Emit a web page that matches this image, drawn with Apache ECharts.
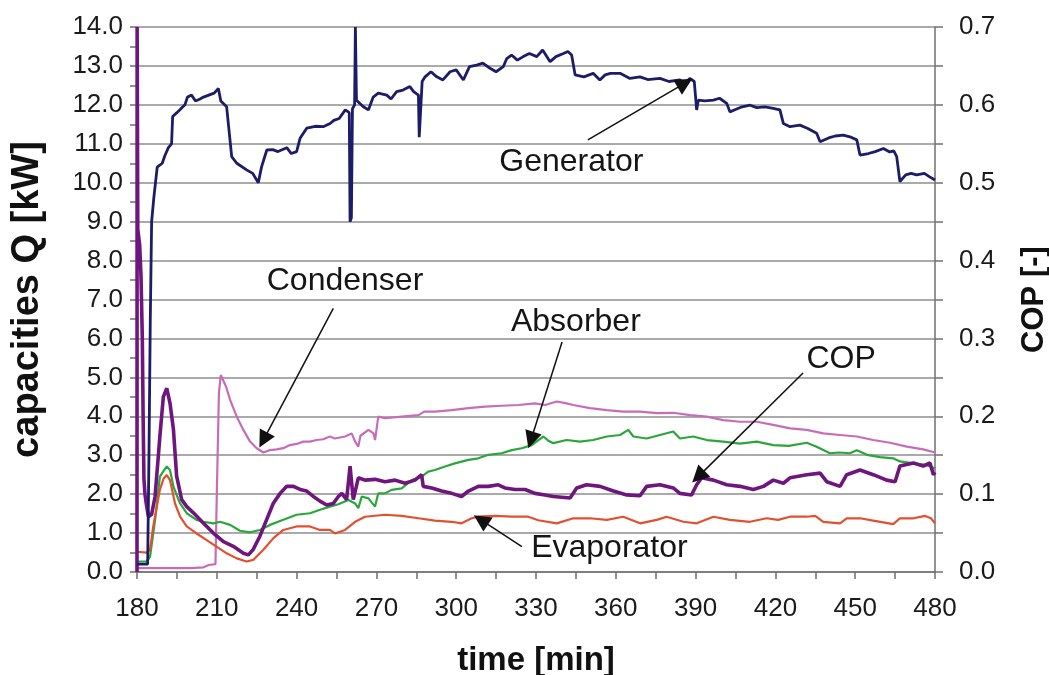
<!DOCTYPE html>
<html>
<head>
<meta charset="UTF-8">
<title>capacities Q / COP vs time</title>
<script src="https://cdn.jsdelivr.net/npm/echarts@6/dist/echarts.min.js"></script>
<style>
  html, body { margin: 0; background: #fff; overflow: hidden; width: 1049px; height: 675px; }
  #chart { width: 1049px; height: 675px; }
</style>
</head>
<body>
<div id="chart"></div>
<script>
// time [min], capacity [kW]
const generator = [
  [180,0.2],[184,0.2],[184.5,3.0],[185,6.5],[185.5,9.0],[186.3,9.6],[187.6,10.4],[189.5,10.5],[190.5,10.7],[191.8,10.9],
  [193,11.0],[193.4,11.7],[195,11.8],[196.5,11.9],[198,12.0],[199,12.2],[200.5,12.25],[202,12.1],[203.7,12.15],[205,12.2],
  [207,12.25],[209,12.3],[210.6,12.42],[211.5,12.1],[213.7,11.95],[215.6,10.67],[217.5,10.5],[221.2,10.33],[223.5,10.24],[225.6,10.0],
  [226.8,10.4],[228.8,10.84],[231,10.85],[233,10.8],[236.3,10.9],[238,10.75],[240,10.8],[241.3,11.14],[243.8,11.4],[247,11.45],
  [250,11.44],[252.6,11.52],[254,11.6],[256,11.65],[258.3,11.87],[259.8,11.8],[260.1,9.0],[260.6,9.1],[261,11.9],[261.8,12.0],
  [262.1,14.0],[262.5,12.12],[265.1,11.95],[267,11.87],[268.8,12.2],[270.7,12.3],[273.9,12.25],[275.5,12.15],[277.6,12.34],[280,12.38],
  [282.6,12.47],[284,12.34],[285.8,12.25],[286.1,11.17],[286.6,11.2],[287.2,12.6],[288.3,12.72],[290.5,12.85],[292.7,12.72],[295,12.64],
  [297.7,12.85],[300,12.9],[302.7,12.64],[305,12.98],[307.7,13.02],[310,13.07],[312.7,12.94],[315,12.85],[317.7,12.98],[319,13.19],
  [320.8,13.28],[323,13.15],[325.2,13.24],[327.5,13.32],[330.3,13.24],[332.5,13.41],[335.3,13.11],[337.5,13.24],[340.3,13.32],[342,13.37],
  [343.4,13.28],[344.7,12.77],[348,12.72],[351.5,12.81],[354,12.64],[356,12.77],[358,12.81],[361.6,12.81],[365.3,12.68],[369.1,12.72],
  [372,12.65],[376.6,12.68],[380,12.6],[384.1,12.64],[386,12.55],[387.8,12.68],[389.5,12.6],[390.4,11.87],[391,12.12],[393.5,12.1],
  [396.7,12.12],[399,12.17],[401.7,12.04],[402.9,11.82],[405,11.88],[407.5,11.95],[410.5,11.99],[413,11.93],[416,11.95],[419.2,11.91],
  [421.7,11.87],[423,11.52],[425.5,11.44],[429.2,11.48],[432,11.4],[435.5,11.27],[436.8,11.05],[440,11.15],[442.5,11.2],[445.5,11.22],
  [448,11.18],[450.6,11.1],[451.8,10.71],[455,10.75],[457.5,10.8],[460.6,10.88],[463,10.79],[464.5,10.82],[465.6,10.67],[466.8,10.03],
  [469,10.2],[471,10.24],[473.1,10.2],[476,10.24],[478,10.15],[480,10.07]
]

const condenser = [
  [180,0.1],[190,0.1],[200,0.1],[205,0.12],[207,0.18],[209.5,0.2],[210,2.0],[210.8,4.6],[211.5,5.06],[212,5.05],
  [213.5,4.76],[215,4.42],[217.5,3.99],[220,3.65],[222.5,3.35],[225,3.18],[227.5,3.07],[230,3.13],[232.5,3.15],[235,3.18],
  [237.5,3.26],[240,3.29],[242.5,3.35],[245,3.35],[247.5,3.39],[250,3.41],[252.5,3.48],[254.4,3.43],[258.2,3.48],[260.7,3.56],
  [262,3.35],[263.2,3.22],[264,3.5],[267,3.65],[268.9,3.56],[269.5,3.39],[270.7,3.99],[273.2,3.95],[279.5,3.99],[285.8,4.03],
  [288,4.12],[292,4.12],[298.3,4.16],[304.6,4.21],[310.8,4.25],[317.1,4.27],[323.4,4.29],[329.6,4.33],[333.4,4.29],[337.8,4.38],
  [341.5,4.33],[344,4.29],[350.3,4.21],[356.6,4.16],[362.8,4.12],[369.1,4.12],[375.4,4.08],[381.6,4.09],[387.9,4.03],[394.2,3.99],
  [400.4,3.9],[406.7,3.86],[413,3.86],[419.2,3.78],[425.5,3.69],[431.8,3.65],[438,3.56],[444.3,3.52],[450.6,3.48],[456.8,3.39],
  [463.1,3.32],[469.4,3.22],[475.6,3.15],[480,3.07]
]

const absorber = [
  [180,0.27],[183.6,0.27],[184.9,0.39],[186.8,1.34],[188.6,2.45],[190,2.6],[191.2,2.71],[192.4,2.62],[193.7,2.19],[196.2,1.76],
  [198.7,1.51],[202.4,1.34],[204.9,1.29],[208.7,1.25],[211.2,1.29],[215,1.21],[218.7,1.06],[222.5,1.02],[226.2,1.08],[230,1.21],
  [235,1.34],[240,1.47],[245,1.51],[248.8,1.6],[252.5,1.68],[255.7,1.74],[259.5,1.85],[262,1.76],[263.2,1.64],[264.5,1.94],
  [267,1.89],[269.5,1.68],[270.7,2.02],[273.2,2.02],[275.7,2.11],[279.5,2.15],[283.3,2.36],[287,2.45],[289.5,2.58],[292,2.62],
  [295.8,2.71],[299.5,2.79],[304.6,2.88],[308.3,2.92],[312.1,3.01],[317.1,3.05],[320.9,3.13],[324.6,3.18],[328.4,3.26],[330.9,3.39],
  [332.8,3.48],[334.5,3.38],[336.5,3.31],[341.5,3.39],[346.5,3.35],[351.5,3.39],[356.6,3.48],[361.6,3.52],[364.7,3.65],[366.6,3.48],
  [371.6,3.43],[376.6,3.52],[381.6,3.61],[384.1,3.43],[389.1,3.48],[394.2,3.39],[400.4,3.35],[406.7,3.3],[413,3.35],[419.2,3.26],
  [425,3.24],[431.8,3.32],[435.5,3.22],[440.5,3.05],[444,3.07],[448,3.05],[450.6,3.13],[454.5,3.01],[459.3,2.95],[464.3,2.92],
  [466.8,2.84],[471.9,2.79],[476.9,2.75],[480,2.66]
]

const evaporator = [
  [180,0.52],[183.6,0.5],[184.9,0.57],[186.1,1.17],[188.6,2.11],[190,2.4],[191.2,2.49],[192.4,2.36],[194.3,1.76],[196.2,1.42],
  [198.7,1.17],[202.4,0.99],[206.2,0.82],[209.9,0.65],[213.7,0.48],[217.5,0.35],[221.2,0.27],[223.7,0.31],[227.5,0.57],[231.3,0.87],
  [235,1.08],[240,1.17],[245,1.17],[248.8,1.08],[252.5,1.08],[254.4,0.99],[258.2,1.08],[262,1.29],[265.7,1.42],[273.2,1.47],
  [279.5,1.44],[285.8,1.38],[292,1.32],[298.3,1.29],[302,1.25],[305.8,1.38],[308.3,1.42],[314.6,1.44],[320.9,1.42],[327.1,1.42],
  [330.9,1.33],[337.8,1.25],[344,1.38],[350.3,1.38],[356.6,1.34],[362.8,1.42],[369.1,1.25],[375.4,1.34],[379.1,1.42],[385.4,1.29],
  [390.4,1.25],[396.7,1.42],[402.9,1.34],[410.4,1.29],[416.7,1.38],[421,1.34],[425.5,1.42],[431.8,1.42],[435,1.44],[438,1.29],
  [444.3,1.25],[446.8,1.38],[451.8,1.38],[456.8,1.32],[464.3,1.23],[466.8,1.38],[471.9,1.38],[476.3,1.44],[478.5,1.38],[480,1.25]
]

// time [min], COP [-] (right axis)
const cop = [
  [180,0],[180.05,0.70],[180.3,0.44],[181,0.42],[181.5,0.38],[182,0.30],[182.3,0.20],[182.6,0.12],[183,0.100],[183.6,0.085],
  [184.3,0.071],[185.5,0.074],[186.8,0.097],[188.6,0.174],[189.9,0.225],[191.2,0.236],[192.4,0.217],[193.7,0.183],[194.9,0.123],[196.8,0.093],
  [198.7,0.084],[201.2,0.076],[204.9,0.063],[208.7,0.050],[212.5,0.039],[216.2,0.033],[220,0.024],[221.9,0.022],[223.7,0.029],[226.2,0.046],
  [228.7,0.067],[231.2,0.088],[233.8,0.101],[236.3,0.110],[238.8,0.110],[241.3,0.106],[243.8,0.104],[246.3,0.097],[248.8,0.091],[251.3,0.086],
  [253.8,0.088],[255.7,0.097],[257,0.101],[258.8,0.093],[260.1,0.136],[260.6,0.118],[261.3,0.093],[262.6,0.112],[263.2,0.121],[265.7,0.118],
  [269.5,0.119],[273.2,0.116],[277,0.118],[280.8,0.114],[284.5,0.118],[287,0.125],[287.6,0.110],[290.8,0.108],[294.5,0.104],[298.3,0.101],
  [302,0.097],[304.6,0.104],[308.3,0.110],[312.1,0.110],[315.8,0.112],[318.3,0.108],[322.1,0.106],[325.9,0.106],[329.6,0.101],[333.4,0.099],
  [336.5,0.097],[342.8,0.095],[345.3,0.108],[349,0.112],[354.1,0.110],[359.1,0.104],[364.1,0.099],[369.1,0.098],[371.6,0.110],[376.6,0.112],
  [381.6,0.108],[384.1,0.101],[388.5,0.099],[390.4,0.112],[392.3,0.121],[396.7,0.118],[401.7,0.112],[406.7,0.110],[411.7,0.106],[415.5,0.110],
  [419.2,0.118],[423,0.114],[425.5,0.121],[431.8,0.125],[436.8,0.127],[439.3,0.116],[444.3,0.110],[446.8,0.125],[451.8,0.131],[456.8,0.125],
  [461.8,0.118],[465,0.116],[466.8,0.136],[471.9,0.140],[475.6,0.136],[478.1,0.140],[479.4,0.125],[480,0.128]
]

// annotations (data coordinates, left axis)
const labelNames = ['Generator', 'Condenser', 'Absorber', 'COP', 'Evaporator']
const labelAt = [[343.3, 10.53], [258.2, 7.46], [345, 6.42], [444.7, 5.47], [357.6, 0.62]]
const arrowFrom = [[349.5, 11.10], [253.8, 6.77], [339.8, 5.91], [430.4, 5.11], [324.7, 0.65]]
const arrowTo = [[386.0, 12.56], [227.5, 3.39], [328.1, 3.39], [391.0, 2.45], [309.3, 1.34]]

const FONT = 'Liberation Sans, Arial, sans-serif'
const AXIS_GRAY = '#707070'
const GRID_GRAY = '#8e8e8e'

const chart = echarts.init(document.getElementById('chart'))

function lineSeries(name, data, color, width, yAxisIndex) {
  return {
    name,
    type: 'line',
    data,
    yAxisIndex,
    showSymbol: false,
    symbol: 'none',
    lineStyle: { color, width },
    itemStyle: { color },
    z: 3
  }
}

const gen = lineSeries('Generator', generator, '#1c1c68', 2.8, 0)
gen.markLine = {
  silent: true,
  symbol: ['none', 'triangle'],
  symbolSize: 17,
  label: { show: false },
  lineStyle: { color: '#111', width: 1.5, type: 'solid' },
  data: arrowFrom.map((f, i) => [{ coord: f }, { coord: arrowTo[i] }])
}
gen.markPoint = {
  silent: true,
  symbol: 'rect',
  symbolSize: 1,
  itemStyle: { color: 'transparent' },
  label: { show: true, position: 'inside', formatter: '{b}', fontSize: 32, color: '#151515', fontFamily: FONT },
  data: labelNames.map((n, i) => ({ name: n, coord: labelAt[i] }))
}

// shared axis styling
const tickStyle = { color: AXIS_GRAY, width: 1.5 }
const tickFont = { fontSize: 26, color: '#1a1a1a', fontFamily: FONT }
const titleFont = { fontWeight: 'bold', color: '#111', fontFamily: FONT }

chart.setOption({
  animation: false,
  backgroundColor: '#fff',
  // v6 would shrink the grid to keep axis names inside; keep the fixed plot box
  grid: { left: 137, right: 114, top: 27, bottom: 103, outerBoundsMode: 'none', containLabel: false },
  xAxis: {
    type: 'value',
    min: 180,
    max: 480,
    interval: 30,
    name: 'time [min]',
    nameLocation: 'middle',
    nameGap: 72,
    nameTextStyle: { ...titleFont, fontSize: 33 },
    axisLine: { show: true, lineStyle: tickStyle },
    axisTick: { show: true, length: 7, lineStyle: tickStyle },
    minorTick: { show: true, splitNumber: 2, length: 7, lineStyle: tickStyle },
    axisLabel: { ...tickFont, margin: 24 },
    splitLine: { show: false }
  },
  yAxis: [
    {
      type: 'value',
      min: 0,
      max: 14,
      interval: 1,
      name: 'capacities Q [kW]',
      nameLocation: 'middle',
      nameGap: 90,
      nameTextStyle: { ...titleFont, fontSize: 38 },
      axisLine: { show: true, lineStyle: tickStyle },
      axisTick: { show: true, length: 7, lineStyle: tickStyle },
      minorTick: { show: true, splitNumber: 2, length: 7, lineStyle: tickStyle },
      axisLabel: { ...tickFont, margin: 14, formatter: v => v.toFixed(1) },
      splitLine: { show: true, lineStyle: { color: GRID_GRAY, width: 1.6 } }
    },
    {
      type: 'value',
      min: 0,
      max: 0.7,
      interval: 0.1,
      name: 'COP [-]',
      nameLocation: 'middle',
      nameGap: 84,
      nameRotate: 90,
      nameTextStyle: { ...titleFont, fontSize: 31 },
      axisLine: { show: true, lineStyle: tickStyle },
      axisTick: { show: true, length: 8, lineStyle: tickStyle },
      minorTick: { show: true, splitNumber: 2, length: 8, lineStyle: tickStyle },
      axisLabel: { ...tickFont, margin: 24, formatter: v => v.toFixed(1) },
      splitLine: { show: false }
    }
  ],
  series: [
    lineSeries('Condenser', condenser, '#c96cb7', 2.2, 0),
    lineSeries('Absorber', absorber, '#2aa63a', 2.2, 0),
    lineSeries('Evaporator', evaporator, '#e2502f', 2.2, 0),
    lineSeries('COP', cop, '#6f167e', 3.6, 1),
    gen
  ]
})
</script>
</body>
</html>
